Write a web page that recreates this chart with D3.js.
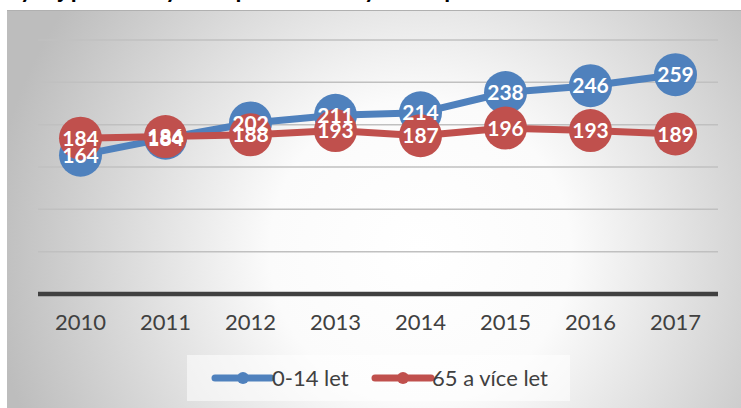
<!DOCTYPE html>
<html>
<head>
<meta charset="utf-8">
<script src="https://cdn.jsdelivr.net/npm/d3@7"></script>
<style>
html,body{margin:0;padding:0;background:#fff;}
svg{display:block;}
</style>
</head>
<body>
<svg id="chart" width="741" height="408"></svg>
<script>
const title = "Vývoj počtu obyvatel podle věkových skupin";
const years = ["2010","2011","2012","2013","2014","2015","2016","2017"];
const seriesNames = ["0-14 let","65 a více let"];
const kids = [164,184,202,211,214,238,246,259];
const seniors = [184,186,188,193,187,196,193,189];
const yTicks = [0,50,100,150,200,250,300];
const colors = ["#4f81bd","#c0504d"];

const svg = d3.select("#chart");
const W = 741, H = 408;
const FONT = "Lato, 'Liberation Sans', sans-serif";

const defs = svg.append("defs");
const grad = defs.append("radialGradient").attr("id","bg")
  .attr("gradientUnits","userSpaceOnUse")
  .attr("cx",420).attr("cy",250).attr("r",430);
grad.append("stop").attr("offset","0%").attr("stop-color","#ffffff");
grad.append("stop").attr("offset","35%").attr("stop-color","#fbfbfb");
grad.append("stop").attr("offset","100%").attr("stop-color","#bdbdbd");

// title (clipped by the top of the picture)
svg.append("text").attr("x",4).attr("y",-2)
  .attr("font-family",FONT)
  .attr("font-weight","bold").attr("font-size",24).attr("fill","#000")
  .text(title);

// chart area
svg.append("rect").attr("x",7).attr("y",10).attr("width",W-7).attr("height",H-10)
  .attr("fill","url(#bg)");
svg.append("line").attr("x1",7).attr("x2",W).attr("y1",10.5).attr("y2",10.5)
  .attr("stroke","#b0b0b0").attr("stroke-width",1);

const x = d3.scaleBand().domain(years).range([38,718]);
const y = d3.scaleLinear().domain([0,300]).range([294,40]);
const cx = d => x(d) + x.bandwidth()/2;

// gridlines
svg.append("g").selectAll("line").data(yTicks.filter(t=>t>0)).join("line")
  .attr("x1",38).attr("x2",718)
  .attr("y1",d=>y(d)).attr("y2",d=>y(d))
  .attr("stroke","#c0c0c0").attr("stroke-width",1.5);

// axis
const xAxis = svg.append("g").attr("transform","translate(0,294)")
  .call(d3.axisBottom(x).tickSize(0).tickPadding(20));
xAxis.select(".domain").attr("stroke","#404040").attr("stroke-width",4.5).attr("d","M38,0H718");
xAxis.selectAll("text").attr("font-family",FONT)
  .attr("font-size",22).attr("fill","#404040");

const series = [kids, seniors];
const line = d3.line().x((d,i)=>cx(years[i])).y(d=>y(d));

series.forEach((vals,si)=>{
  const g = svg.append("g");
  g.append("path").datum(vals).attr("d",line).attr("fill","none")
    .attr("stroke",colors[si]).attr("stroke-width",7).attr("stroke-linejoin","round");
  g.selectAll("circle").data(vals).join("circle")
    .attr("cx",(d,i)=>cx(years[i])).attr("cy",d=>y(d)).attr("r",21.5)
    .attr("fill",colors[si]);
});
series.forEach((vals,si)=>{
  svg.append("g").selectAll("text").data(vals).join("text")
    .attr("x",(d,i)=>cx(years[i])).attr("y",d=>y(d)).attr("dy","0.36em")
    .attr("text-anchor","middle")
    .attr("font-family",FONT)
    .attr("font-weight","bold").attr("font-size",21).attr("fill","#fff")
    .text(d=>d);
});

// legend
const leg = svg.append("g");
leg.append("rect").attr("x",187).attr("y",355).attr("width",383).attr("height",46)
  .attr("fill","#ffffff").attr("opacity",0.55);
const legX = [215, 375];
seriesNames.forEach((name,i)=>{
  const gx = legX[i];
  leg.append("line").attr("x1",gx).attr("x2",gx+56).attr("y1",378).attr("y2",378)
    .attr("stroke",colors[i]).attr("stroke-width",7).attr("stroke-linecap","round");
  leg.append("circle").attr("cx",gx+28).attr("cy",378).attr("r",6).attr("fill",colors[i]);
  leg.append("text").attr("x",gx+57).attr("y",378).attr("dy","0.36em")
    .attr("font-family",FONT)
    .attr("font-size",22).attr("fill","#404040").text(name);
});
</script>
</body>
</html>
